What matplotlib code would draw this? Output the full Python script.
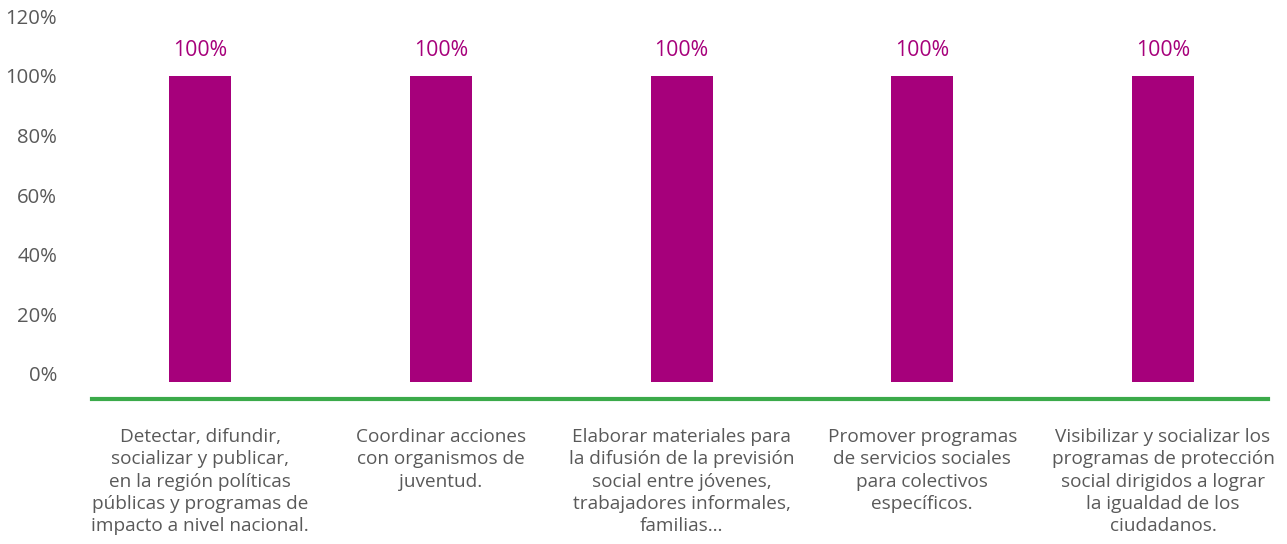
import matplotlib.pyplot as plt

# data
categories = [
    'Detectar, difundir,\nsocializar y publicar,\nen la región políticas\npúblicas y programas de\nimpacto a nivel nacional.',
    'Coordinar acciones\ncon organismos de\njuventud.',
    'Elaborar materiales para\nla difusión de la previsión\nsocial entre jóvenes,\ntrabajadores informales,\nfamilias…',
    'Promover programas\nde servicios sociales\npara colectivos\nespecíficos.',
    'Visibilizar y socializar los\nprogramas de protección\nsocial dirigidos a lograr\nla igualdad de los\nciudadanos.',
]
values = [100, 100, 100, 100, 100]
yticks = [0, 20, 40, 60, 80, 100, 120]

bar_color = '#A6007B'
green = '#3BAA4A'
grey = '#595959'
base = -2.6  # bars start a little below zero in the original

plt.rcParams['font.family'] = ['Open Sans', 'DejaVu Sans']

fig = plt.figure(figsize=(12.87, 5.44), dpi=100)
ax = fig.add_axes([92 / 1287, 1 - 399 / 544, (1268 - 92) / 1287, (399 - 5) / 544])

x = list(range(len(values)))
ax.bar(x, [v - base for v in values], bottom=base, width=0.258, color=bar_color)

for xi, v in zip(x, values):
    ax.annotate('%d%%' % v, (xi, v), xytext=(0, 11), textcoords='offset points',
                ha='center', va='bottom', color=bar_color, fontsize=15.3)

for xi, label in zip(x, categories):
    ax.annotate(label, (xi, 0), xycoords=('data', 'axes fraction'),
                xytext=(0, -21), textcoords='offset points',
                ha='center', va='top', color=grey, fontsize=13.7,
                linespacing=1.3)

ax.set_xlim(-0.449, 4.436)
ax.set_ylim(-8.4, 123.8)
ax.set_yticks(yticks)
ax.set_yticklabels(['%d%%' % t for t in yticks])
ax.set_xticks([])
ax.tick_params(axis='y', length=0, pad=25, labelsize=14.6, labelcolor=grey)

for s in ['top', 'right', 'left']:
    ax.spines[s].set_visible(False)
ax.spines['bottom'].set_color(green)
ax.spines['bottom'].set_linewidth(3)

fig.savefig('out.png', dpi=100)
